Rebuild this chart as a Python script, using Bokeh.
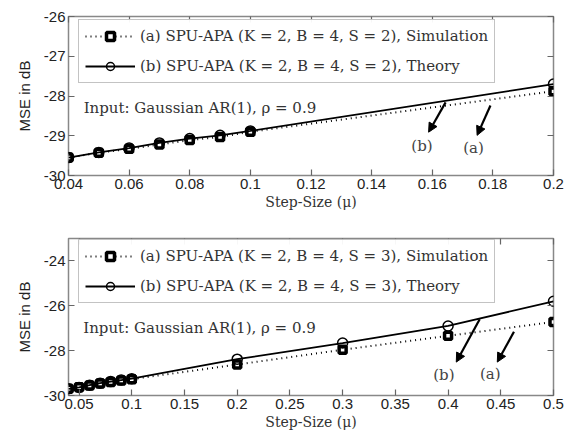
from bokeh.plotting import figure
from bokeh.layouts import column
from bokeh.models import (Range1d, LinearAxis, FixedTicker, NumeralTickFormatter,
                          CustomJSTickFormatter, Legend, LegendItem, Label, Arrow, NormalHead)
from bokeh.embed import file_html
from bokeh.resources import INLINE

# ---- data: top panel (S = 2)
mu_top = [0.04, 0.05, 0.06, 0.07, 0.08, 0.09, 0.10, 0.20]
sim_top = [-29.55, -29.43, -29.33, -29.22, -29.11, -29.03, -28.90, -27.88]
thy_top = [-29.55, -29.42, -29.31, -29.18, -29.07, -28.99, -28.88, -27.70]
xticks_top = [0.04, 0.06, 0.08, 0.10, 0.12, 0.14, 0.16, 0.18, 0.20]
yticks_top = [-30, -29, -28, -27, -26]

# ---- data: bottom panel (S = 3)
mu_bot = [0.04, 0.05, 0.06, 0.07, 0.08, 0.09, 0.10, 0.20, 0.30, 0.40, 0.50]
sim_bot = [-29.70, -29.63, -29.55, -29.47, -29.40, -29.33, -29.27, -28.62, -27.96, -27.34, -26.72]
thy_bot = [-29.70, -29.64, -29.54, -29.45, -29.38, -29.31, -29.25, -28.38, -27.66, -26.90, -25.80]
xticks_bot = [0.05, 0.10, 0.15, 0.20, 0.25, 0.30, 0.35, 0.40, 0.45, 0.50]
yticks_bot = [-30, -28, -26, -24]

SERIF = "DejaVu Serif"
SANS = "Liberation Sans"
TXT = "#333333"
TICK = "#666666"


def mirror_axis(ticks):
    return LinearAxis(ticker=FixedTicker(ticks=ticks),
                      formatter=CustomJSTickFormatter(code="return ''"),
                      major_label_text_font_size="1px", major_label_standoff=0,
                      major_tick_in=6, major_tick_out=0, minor_tick_in=0, minor_tick_out=0,
                      axis_line_color=None, major_tick_line_color=TICK,
                      major_tick_line_width=1.2)


def make_panel(mu, sim, thy, xr, yr, xticks, yticks, s_val, note_xy,
               arrows, labels, height, top_border, bottom_border):
    p = figure(width=573, height=height, output_backend="svg",
               toolbar_location=None, x_range=Range1d(*xr), y_range=Range1d(*yr),
               min_border_left=68, min_border_right=20,
               min_border_top=top_border, min_border_bottom=bottom_border)
    p.grid.visible = False
    p.outline_line_color = "#888888"
    p.outline_line_width = 1.5

    for ax in p.xaxis:
        ax.ticker = FixedTicker(ticks=xticks)
        ax.formatter = NumeralTickFormatter(format="0.[00]")
        ax.axis_label = "Step-Size (μ)"
        ax.axis_label_text_font = SERIF
        ax.axis_label_text_font_style = "normal"
        ax.axis_label_text_font_size = "14px"
        ax.axis_label_text_color = TXT
        ax.axis_label_standoff = 2
    for ax in p.yaxis:
        ax.ticker = FixedTicker(ticks=yticks)
        ax.formatter = NumeralTickFormatter(format="0")
        ax.axis_label = "MSE in dB"
        ax.axis_label_text_font = SANS
        ax.axis_label_text_font_style = "normal"
        ax.axis_label_text_font_size = "15px"
        ax.axis_label_text_color = "#222222"
        ax.axis_label_standoff = 8
    for ax in list(p.xaxis) + list(p.yaxis):
        ax.major_label_text_font = SANS
        ax.major_label_text_font_size = "15px"
        ax.major_label_text_color = "#222222"
        ax.major_label_standoff = 3
        ax.major_tick_in = 6
        ax.major_tick_out = 0
        ax.minor_tick_in = 0
        ax.minor_tick_out = 0
        ax.axis_line_color = None
        ax.major_tick_line_color = TICK
        ax.major_tick_line_width = 1.2

    p.add_layout(mirror_axis(xticks), "above")
    p.add_layout(mirror_axis(yticks), "right")

    l_sim = p.line(mu, sim, line_color="black", line_width=2, line_dash="1 4")
    s_sim = p.scatter(mu, sim, marker="square", size=7, fill_color="white",
                      line_color="black", line_width=3.5)
    l_thy = p.line(mu, thy, line_color="black", line_width=1.8)
    s_thy = p.scatter(mu, thy, marker="circle", size=10, fill_color=None,
                      line_color="black", line_width=1.5)

    legend = Legend(items=[
        LegendItem(label=f"(a) SPU-APA (K = 2, B = 4, S = {s_val}), Simulation",
                   renderers=[l_sim, s_sim]),
        LegendItem(label=f"(b) SPU-APA (K = 2, B = 4, S = {s_val}), Theory",
                   renderers=[l_thy, s_thy]),
    ], location=(10, 92))
    legend.label_text_font = SERIF
    legend.label_text_font_size = "15px"
    legend.label_text_color = TXT
    legend.glyph_width = 50
    legend.glyph_height = 20
    legend.label_height = 20
    legend.label_standoff = 5
    legend.spacing = 10
    legend.padding = 6
    legend.margin = 0
    legend.border_line_color = "#888888"
    legend.border_line_width = 1.2
    p.add_layout(legend, "center")

    p.add_layout(Label(x=note_xy[0], y=note_xy[1], text="Input: Gaussian AR(1), ρ = 0.9",
                       text_font=SERIF, text_font_size="15px", text_color=TXT,
                       text_baseline="middle"))
    for (x0, y0, x1, y1) in arrows:
        p.add_layout(Arrow(x_start=x0, y_start=y0, x_end=x1, y_end=y1,
                           line_width=2.2, line_color="black",
                           end=NormalHead(size=9, fill_color="black", line_color="black")))
    for (tx, ty, t) in labels:
        p.add_layout(Label(x=tx, y=ty, text=t, text_font=SERIF, text_font_size="15px",
                           text_color="#444444", text_align="center", text_baseline="middle"))
    return p


p1 = make_panel(mu_top, sim_top, thy_top, (0.04, 0.2), (-30, -26), xticks_top, yticks_top, 2,
                (0.045, -28.29),
                [(0.1644, -28.16, 0.1588, -28.91), (0.1792, -28.24, 0.1748, -28.99)],
                [(0.1566, -29.25, "(b)"), (0.1736, -29.32, "(a)")],
                220, 16, 45)
p2 = make_panel(mu_bot, sim_bot, thy_bot, (0.04, 0.5), (-30, -23), xticks_bot, yticks_bot, 3,
                (0.054, -27.0),
                [(0.43, -26.6, 0.4078, -28.51), (0.4625, -27.16, 0.4467, -28.51)],
                [(0.396, -29.1, "(b)"), (0.44, -29.03, "(a)")],
                212, 18, 35)

layout = column(p1, p2, spacing=0)
open("out.html", "w").write(file_html(layout, INLINE))
